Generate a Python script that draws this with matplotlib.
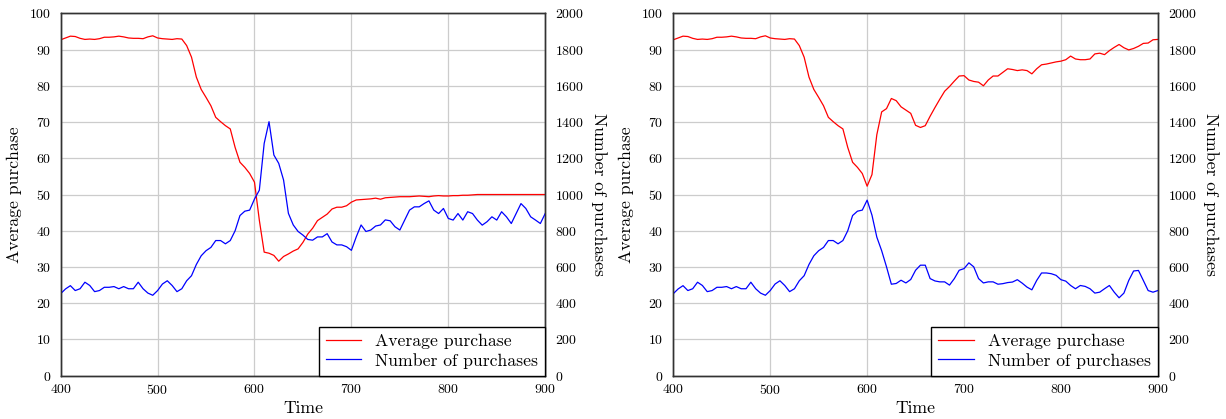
import numpy as np
import matplotlib
matplotlib.use('Agg')
import matplotlib.pyplot as plt

plt.rcParams['font.family'] = 'cmr10'
plt.rcParams['axes.formatter.use_mathtext'] = True
plt.rcParams['mathtext.fontset'] = 'cm'

# time axis, every 5 steps
time = np.arange(400, 905, 5)

# identical part of both runs (400 .. 595)
avg_before = [92.7, 93.2, 93.7, 93.6, 93.1, 92.8, 92.9, 92.8, 93.0, 93.4,
              93.4, 93.5, 93.7, 93.5, 93.2, 93.1, 93.1, 93.0, 93.5, 93.8,
              93.2, 93.0, 92.9, 92.8, 93.0, 92.9, 91.1, 87.9, 82.4, 79.0,
              76.8, 74.5, 71.3, 70.1, 69.0, 68.1, 63.0, 58.9, 57.5, 55.8]
num_before = [453, 479, 497, 470, 480, 516, 498, 464, 470, 488,
              488, 492, 480, 492, 480, 480, 516, 480, 456, 444,
              470, 506, 524, 498, 464, 480, 524, 552, 614, 662,
              690, 708, 746, 746, 728, 746, 800, 884, 908, 914]

# left run (600 .. 900)
avg_after_a = [53.4, 42.9, 34.1, 33.8, 33.2, 31.6, 32.9, 33.6, 34.4, 35.0,
               36.8, 39.1, 40.7, 42.8, 43.7, 44.6, 46.0, 46.5, 46.5, 46.9,
               47.9, 48.5, 48.6, 48.7, 48.8, 49.0, 48.7, 49.1, 49.2, 49.3,
               49.4, 49.4, 49.4, 49.5, 49.6, 49.5, 49.4, 49.6, 49.7, 49.6,
               49.6, 49.7, 49.7, 49.8, 49.8, 49.9, 50.0, 50.0, 50.0, 50.0,
               50.0, 50.0, 50.0, 50.0, 50.0, 50.0, 50.0, 50.0, 50.0, 50.0, 50.0]
num_after_a = [975, 1024, 1282, 1402, 1218, 1172, 1080, 896, 832, 796,
               776, 752, 748, 766, 766, 784, 738, 722, 722, 712,
               692, 766, 832, 796, 804, 826, 832, 860, 855, 822,
               804, 859, 914, 932, 932, 950, 965, 914, 895, 923,
               868, 859, 895, 859, 905, 895, 859, 831, 850, 877,
               859, 905, 877, 840, 895, 950, 923, 877, 859, 840, 895]

# right run (600 .. 900)
avg_after_b = [52.3, 55.5, 66.5, 72.8, 73.7, 76.5, 75.9, 74.2, 73.3, 72.4,
               69.1, 68.5, 69.0, 71.6, 74.0, 76.3, 78.5, 79.8, 81.3, 82.7,
               82.8, 81.6, 81.2, 81.0, 80.0, 81.6, 82.7, 82.7, 83.7, 84.7,
               84.5, 84.2, 84.4, 84.2, 83.3, 84.7, 85.8, 86.0, 86.3, 86.6,
               86.8, 87.2, 88.2, 87.4, 87.2, 87.2, 87.4, 88.8, 89.0, 88.6,
               89.7, 90.6, 91.4, 90.5, 89.9, 90.3, 90.9, 91.7, 91.8, 92.7, 92.8]
num_after_b = [969, 886, 765, 690, 601, 505, 509, 527, 512, 531,
               582, 610, 610, 536, 523, 518, 518, 500, 536, 582,
               591, 623, 601, 536, 512, 518, 518, 505, 508, 514,
               517, 530, 511, 489, 474, 526, 567, 567, 563, 554,
               530, 522, 498, 480, 498, 493, 480, 456, 461, 480,
               498, 461, 430, 456, 526, 578, 581, 526, 470, 461, 470]

runs = [(avg_before + avg_after_a, num_before + num_after_a),
        (avg_before + avg_after_b, num_before + num_after_b)]

fig = plt.figure(figsize=(12.26, 4.19), dpi=100)
lefts = [0.0495, 0.5492]
spine_col = '#333333'
lab_size = 12.7

for left, (avg, num) in zip(lefts, runs):
    ax = fig.add_axes([left, 0.1033, 0.3952, 0.8649])
    ax2 = ax.twinx()
    l1, = ax.plot(time, avg, color='red', lw=0.9, label='Average purchase')
    l2, = ax2.plot(time, num, color='blue', lw=0.9, label='Number of purchases')

    ax.set_xlim(400, 900)
    ax.set_ylim(0, 100)
    ax2.set_ylim(0, 2000)
    ax.set_xticks([400, 500, 600, 700, 800, 900])
    ax.set_yticks(range(0, 101, 10))
    ax2.set_yticks(range(0, 2001, 200))
    ax.grid(True, color='#cccccc', lw=0.9)
    ax.set_axisbelow(True)

    ax.tick_params(axis='y', length=0, pad=7, labelsize=10)
    ax.tick_params(axis='x', length=0, pad=5, labelsize=10)
    ax2.tick_params(axis='y', length=0, pad=7, labelsize=10)
    for a in (ax, ax2):
        for s in a.spines.values():
            s.set_color(spine_col)
            s.set_linewidth(1.0)

    ax.set_xlabel('Time', fontsize=lab_size, labelpad=3)
    ax.set_ylabel('Average purchase', fontsize=lab_size, labelpad=5)
    ax2.set_ylabel('Number of purchases', fontsize=lab_size, rotation=270, labelpad=16)

    leg = ax2.legend([l1, l2], ['Average purchase', 'Number of purchases'],
                     loc='lower right', fontsize=lab_size, fancybox=False,
                     framealpha=1, edgecolor='black', borderaxespad=0,
                     handlelength=2.0, labelspacing=0.2, borderpad=0.4)
    leg.get_frame().set_linewidth(1.0)

fig.savefig('out.png', dpi=100)
